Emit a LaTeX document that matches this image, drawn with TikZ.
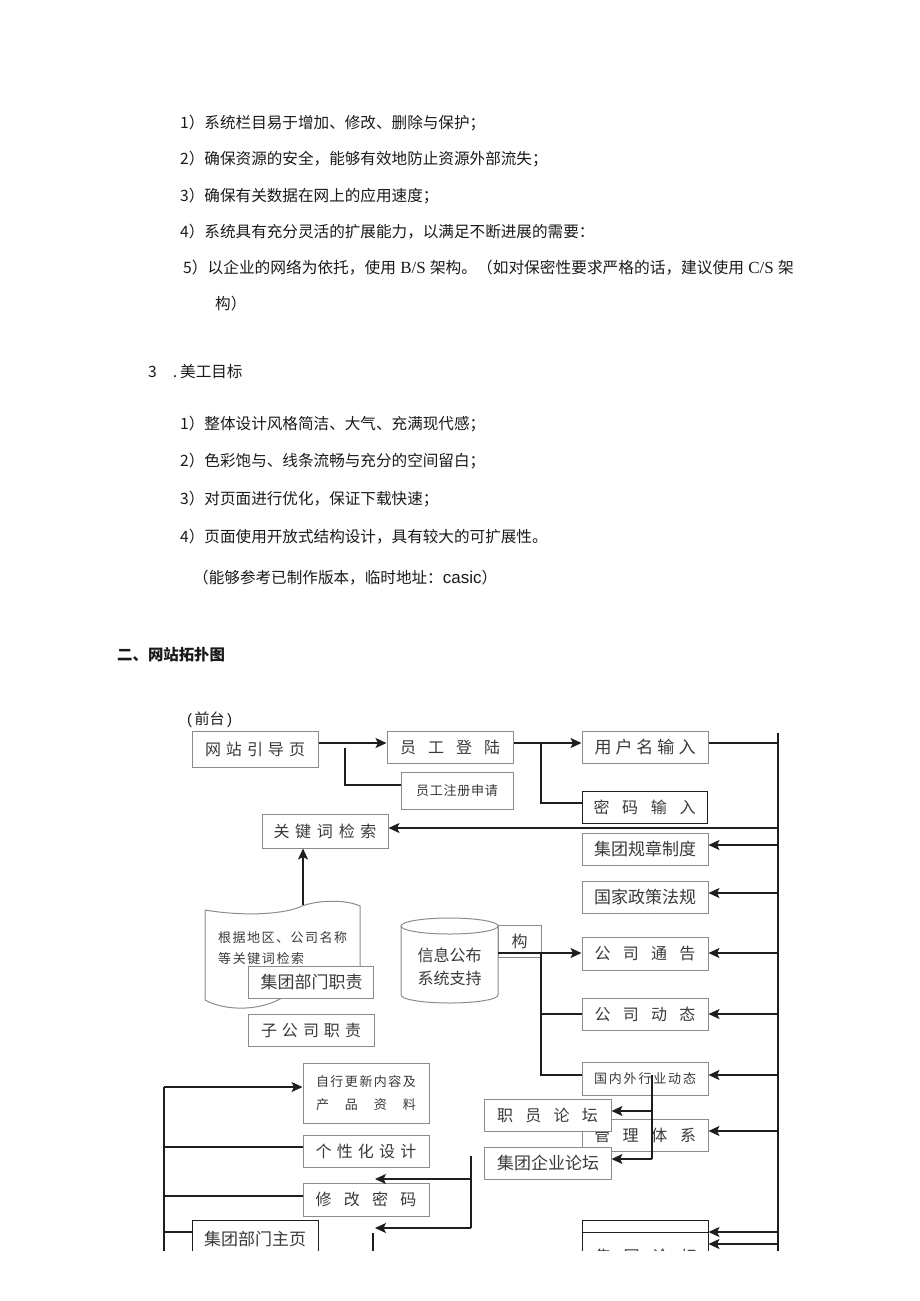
\documentclass[tikz,border=0pt]{standalone}
\usepackage{fontspec}
\setmainfont{Noto Sans CJK SC}
\newfontfamily\lser{Liberation Serif}
\newfontfamily\lsans{Liberation Sans}
\usetikzlibrary{arrows.meta}
\definecolor{boxgray}{HTML}{8C8C8C}
\definecolor{ln}{HTML}{1E1E1E}
\definecolor{txt}{HTML}{1A1A1A}
\definecolor{btxt}{HTML}{3A3A3A}
\def\sprloop#1{\ifx#1\relax\else#1\expandafter\sprnext\fi}
\def\sprnext#1{\ifx#1\relax\else\hfill#1\expandafter\sprnext\fi}
\newcommand\sprd[2]{\makebox[#1][s]{\sprloop#2\relax}}
\begin{document}
\begin{tikzpicture}[x=1pt,y=-1pt,
  body/.style={anchor=west, inner sep=0pt, font=\fontsize{15.6}{18}\selectfont, text=txt},
  box/.style={draw=boxgray, line width=1pt, fill=white, inner sep=0pt, text=btxt},
  dbox/.style={box, draw=ln},
  conn/.style={draw=ln, line width=1.5pt},
  arr/.style={conn, -{Stealth[length=11pt,width=10pt,inset=2.5pt]}},
  f13/.style={font=\fontsize{13}{13}\selectfont},
  f16/.style={font=\fontsize{16}{16}\selectfont},
  f17/.style={font=\fontsize{17}{17}\selectfont}]
\fill[white] (0,0) rectangle (920,1301);
\useasboundingbox (0,0) rectangle (920,1301);
% ---------- text ----------
\node[body] (t1) at (180,123) {1）系统栏目易于增加、修改、删除与保护；};
\node[body] (t2) at (180,159) {2）确保资源的安全，能够有效地防止资源外部流失；};
\node[body] (t3) at (180,196) {3）确保有关数据在网上的应用速度；};
\node[body] (t4) at (180,232) {4）系统具有充分灵活的扩展能力，以满足不断进展的需要：};
\node[body, font=\fontsize{15.7}{18}\selectfont] (t5) at (183,268) {5）以企业的网络为依托，使用{\lser\fontsize{17}{18}\selectfont\ B/S\ }架构。（如对保密性要求严格的话，建议使用{\lser\fontsize{17}{18}\selectfont\ C/S\ }架};
\node[body] (t6) at (215,304) {构）};
\node[body] (h3) at (148,372) {3\hspace{16pt}.\hspace{3pt}美工目标};
\node[body] (s1) at (180,424) {1）整体设计风格简洁、大气、充满现代感；};
\node[body] (s2) at (180,461) {2）色彩饱与、线条流畅与充分的空间留白；};
\node[body] (s3) at (180,499) {3）对页面进行优化，保证下载快速；};
\node[body] (s4) at (180,537) {4）页面使用开放式结构设计，具有较大的可扩展性。};
\node[body] (s5) at (193,578) {（能够参考已制作版本，临时地址：{\lsans\fontsize{17}{18}\selectfont casic}）};
\node[body, font=\fontsize{15.4}{18}\selectfont\bfseries] (h2) at (117,655) {二、网站拓扑图};
\node[body, font=\fontsize{15}{18}\selectfont] (qt) at (187,720) {{\lsans (\,}前台{\lsans \,)}};
% ---------- diagram ----------
\begin{scope}
\clip (0,0) rectangle (920,1250);
% document shape
\draw[boxgray, line width=1pt, fill=white] (205,910) .. controls (240,916) and (280,915) .. (300,907) .. controls (315,900) and (345,899) .. (360,906) -- (360,995) .. controls (340,990) and (300,990) .. (280,999) .. controls (258,1011) and (225,1011) .. (205,1000) -- cycle;
\node[anchor=west, inner sep=0pt, f13, text=btxt] (dt1) at (218,938) {\sprd{129pt}{根据地区、公司名称}};
\node[anchor=west, inner sep=0pt, f13, text=btxt] (dt2) at (218,959) {\sprd{86pt}{等关键词检索}};
% boxes
\node[box, minimum width=126pt, minimum height=36pt, f16] (nav) at (255,749) {\sprd{100pt}{网站引导页}};
\node[box, minimum width=126pt, minimum height=32pt, f16] (login) at (450,747) {\sprd{100pt}{员工登陆}};
\node[box, minimum width=112pt, minimum height=37pt, f13] (reg) at (457,790.5) {\sprd{82pt}{员工注册申请}};
\node[box, minimum width=126pt, minimum height=34pt, f16] (kw) at (325,831) {\sprd{103pt}{关键词检索}};
\node[box, minimum width=126pt, minimum height=32pt, f17] (user) at (645,747) {\sprd{101pt}{用户名输入}};
\node[dbox, minimum width=125pt, minimum height=32pt, f16] (pwd) at (644.5,807) {\sprd{102pt}{密码输入}};
\node[box, minimum width=126pt, minimum height=32pt, f17] (rules) at (645,849) {\sprd{102pt}{集团规章制度}};
\node[box, minimum width=126pt, minimum height=32pt, f17] (law) at (645,897) {\sprd{102pt}{国家政策法规}};
\node[box, minimum width=126pt, minimum height=33pt, f16] (notice) at (645,953.5) {\sprd{101pt}{公司通告}};
\node[box, minimum width=126pt, minimum height=32pt, f16] (news) at (645,1014) {\sprd{101pt}{公司动态}};
\node[box, minimum width=126pt, minimum height=33pt, f13] (ind) at (645,1078.5) {\sprd{102pt}{国内外行业动态}};
\node[box, minimum width=126pt, minimum height=32pt, f16] (mgmt) at (645,1135) {\sprd{102pt}{管理体系}};
\node[box, minimum width=127pt, minimum height=32pt, f16] (staff) at (547.5,1115) {\sprd{101pt}{职员论坛}};
\node[box, minimum width=127pt, minimum height=32pt, f17] (entf) at (547.5,1163) {\sprd{101pt}{集团企业论坛}};
\node[box, minimum width=126pt, minimum height=60pt, f13, align=center] (upd) at (366,1093) {\sprd{100pt}{自行更新内容及}\\[10pt]\sprd{100pt}{产品资料}};
\node[box, minimum width=126pt, minimum height=32pt, f16] (pers) at (366,1151) {\sprd{101pt}{个性化设计}};
\node[box, minimum width=126pt, minimum height=33pt, f16] (chpw) at (366,1199.5) {\sprd{101pt}{修改密码}};
\node[box, minimum width=125pt, minimum height=32pt, f17] (duty) at (310.5,982) {\sprd{100pt}{集团部门职责}};
\node[box, minimum width=126pt, minimum height=32pt, f16] (sub) at (311,1030) {\sprd{100pt}{子公司职责}};
\node[dbox, minimum width=126pt, minimum height=56pt] (dept) at (255,1248) {};
\node[inner sep=0pt, f17, text=btxt] (deptt) at (255,1239) {\sprd{102pt}{集团部门主页}};
\node[dbox, minimum width=126pt, minimum height=56pt] (forum) at (645,1248) {};
\node[inner sep=0pt, f16, text=btxt] (forumt) at (646,1256) {\sprd{102pt}{集团论坛}};
\node[box, minimum width=43pt, minimum height=32pt, f16] (gou) at (519.5,941) {构};
% cylinder
\fill[white] (401,926) -- (401,995) arc[start angle=180, end angle=360, x radius=48.5pt, y radius=8pt] -- (498,926) -- cycle;
\draw[boxgray, line width=1pt] (401,926) -- (401,995) arc[start angle=180, end angle=360, x radius=48.5pt, y radius=8pt] -- (498,926);
\draw[boxgray, line width=1pt, fill=white] (449.5,926) ellipse [x radius=48.5pt, y radius=8pt];
\node[inner sep=0pt, f16, text=btxt, align=center] (cyl) at (449.5,966.5) {信息公布\\[7pt]系统支持};
% ---------- connectors ----------
\coordinate (bt) at (778,733);
\coordinate (bb) at (778,1262);
\draw[conn] (bt) -- (bb);
\draw[conn] ([yshift=4pt]user.east) -- ([yshift=4pt]user.east -| bt);
\coordinate (k1) at (778,828);   \draw[arr] (k1) -- (k1 -| kw.east);
\coordinate (r1) at (778,845);   \draw[arr] (r1) -- (r1 -| rules.east);
\coordinate (r2) at (778,893);   \draw[arr] (r2) -- (r2 -| law.east);
\coordinate (r3) at (778,953);   \draw[arr] (r3) -- (r3 -| notice.east);
\coordinate (r4) at (778,1014);  \draw[arr] (r4) -- (r4 -| news.east);
\coordinate (r5) at (778,1075);  \draw[arr] (r5) -- (r5 -| ind.east);
\coordinate (r6) at (778,1131);  \draw[arr] (r6) -- (r6 -| mgmt.east);
\coordinate (r7) at (778,1232);  \draw[arr] (r7) -- (r7 -| forum.east);
\coordinate (r8) at (778,1244);  \draw[arr] (r8) -- (r8 -| forum.east);
\draw[draw=ln, line width=1pt] (r7 -| forum.west) -- (r7 -| forum.east);
% top left
\draw[arr] ([yshift=6pt]nav.east) -- ([yshift=6pt]nav.east -| login.west);
\coordinate (c1) at (345,748);
\draw[conn] (c1) |- ([yshift=5.5pt]reg.west);
\draw[arr] ([yshift=4pt]login.east) -- ([yshift=4pt]login.east -| user.west);
\coordinate (c2) at (541,743);
\draw[conn] (c2) |- ([yshift=4pt]pwd.west);
% document to keyword search
\coordinate (d1) at (303,905);
\draw[arr] (d1) -- (d1 |- kw.south);
% cylinder branches
\coordinate (cy) at (498,953);
\draw[arr] (cy) -- (cy -| notice.west);
\coordinate (c3) at (541,953);
\draw[conn] (c3) |- (news.west);
\draw[conn] (c3) |- ([yshift=3.5pt]ind.west);
% forums
\coordinate (m1) at (652,1075);
\coordinate (m3) at (652,1111);
\coordinate (m2) at (652,1159);
\draw[conn] (m1) -- (m2);
\draw[arr] (m3) -- (m3 -| staff.east);
\draw[arr] (m2) -- (m2 -| entf.east);
% left bus
\coordinate (l1) at (164,1087);
\coordinate (l2) at (164,1262);
\draw[conn] (l1) -- (l2);
\draw[arr] (l1) -- (l1 -| upd.west);
\coordinate (l3) at (164,1147); \draw[conn] (l3) -- (l3 -| pers.west);
\coordinate (l4) at (164,1196); \draw[conn] (l4) -- (l4 -| chpw.west);
\coordinate (l5) at (164,1232); \draw[conn] (l5) -- (l5 -| dept.west);
% middle bracket
\coordinate (n1) at (471,1156);
\coordinate (n2) at (471,1179);
\coordinate (n3) at (471,1228);
\coordinate (n4) at (375,1179);
\coordinate (n5) at (375,1228);
\coordinate (n6) at (373,1233);
\coordinate (n7) at (373,1262);
\draw[conn] (n1) -- (n3);
\draw[arr] (n2) -- (n4);
\draw[arr] (n3) -- (n5);
\draw[conn] (n6) -- (n7);
\end{scope}
\end{tikzpicture}
\end{document}
